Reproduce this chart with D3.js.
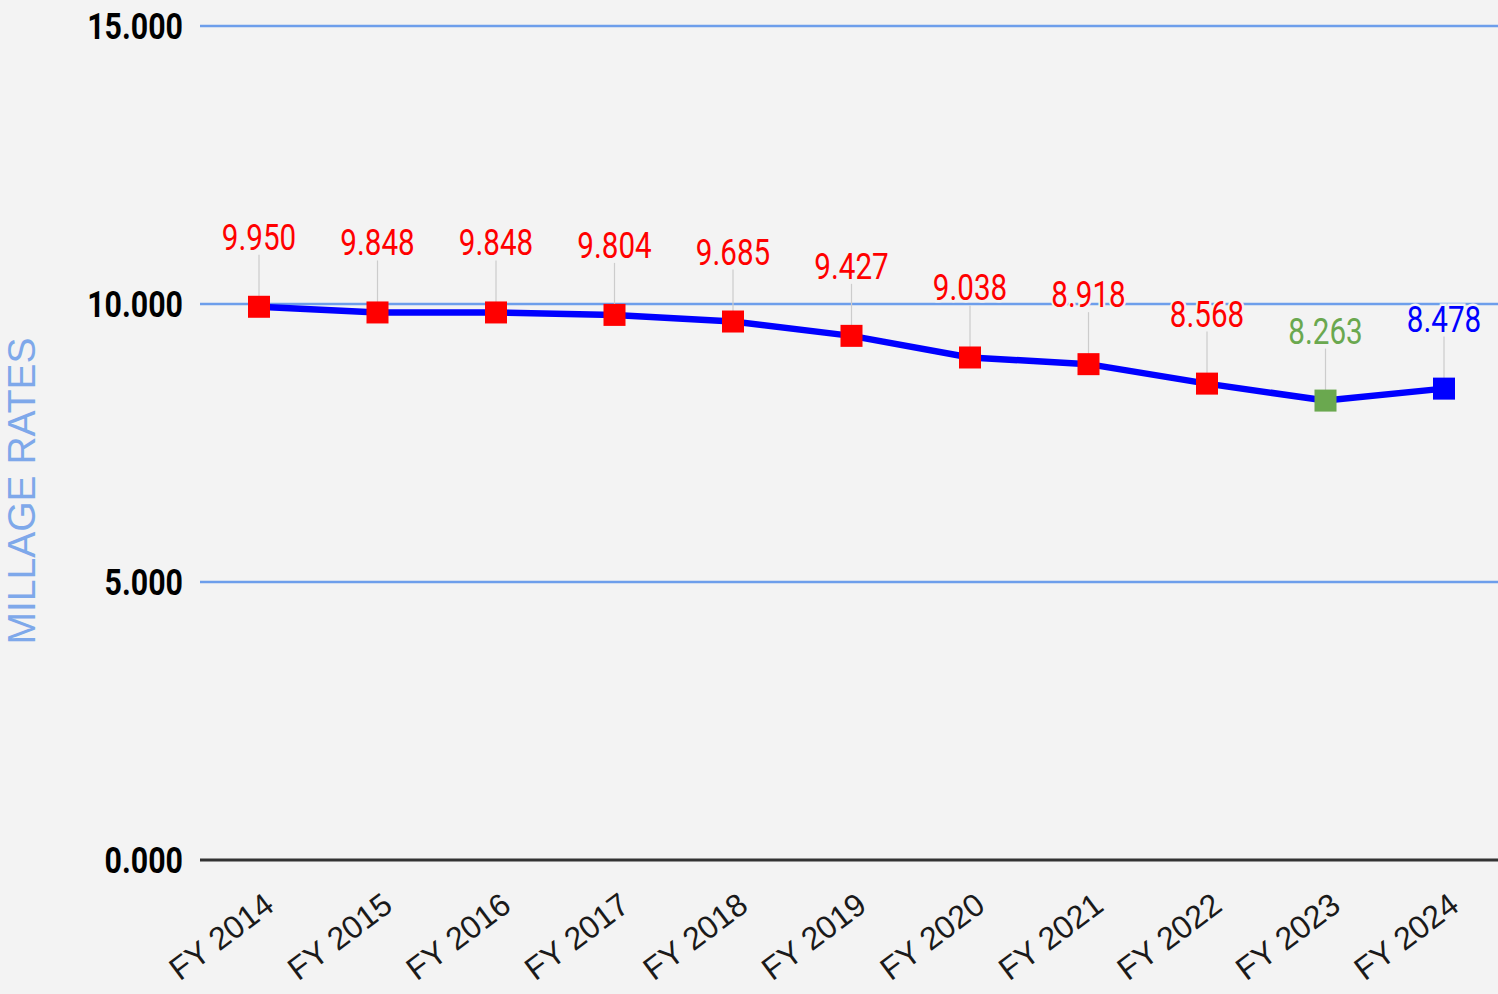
<!DOCTYPE html>
<html>
<head>
<meta charset="utf-8">
<script src="https://cdn.jsdelivr.net/npm/d3@7"></script>
<style>
  html, body { margin: 0; padding: 0; background: #f3f3f3; }
  svg { display: block; }
</style>
</head>
<body>
<svg width="1498" height="994"></svg>
<script>
var years = ["FY 2014", "FY 2015", "FY 2016", "FY 2017", "FY 2018", "FY 2019",
             "FY 2020", "FY 2021", "FY 2022", "FY 2023", "FY 2024"];
var rates = [9.950, 9.848, 9.848, 9.804, 9.685, 9.427, 9.038, 8.918, 8.568, 8.263, 8.478];
var pointColors = ["#ff0000", "#ff0000", "#ff0000", "#ff0000", "#ff0000", "#ff0000",
                   "#ff0000", "#ff0000", "#ff0000", "#6aa84f", "#0000ff"];
var yTicks = [0, 5, 10, 15];

var svg = d3.select("svg");

var x = d3.scalePoint()
    .domain(years)
    .range([259, 1444]);

var y = d3.scaleLinear()
    .domain([0, 15])
    .range([860, 26]);

var data = years.map(function(d, i) {
  return {year: d, value: rates[i], color: pointColors[i]};
});

// gridlines
svg.append("g")
  .selectAll("line")
    .data(yTicks)
  .enter().append("line")
    .attr("x1", 200)
    .attr("x2", 1498)
    .attr("y1", function(d) { return y(d); })
    .attr("y2", function(d) { return y(d); })
    .attr("stroke", function(d) { return d == 0 ? "#333333" : "#6d9eeb"; })
    .attr("stroke-width", function(d) { return d == 0 ? 3 : 2.5; });

// y tick labels
svg.append("g")
  .selectAll("g")
    .data(yTicks)
  .enter().append("g")
    .attr("transform", function(d) { return "translate(183," + (y(d) + 13) + ")scale(0.82,1)"; })
  .append("text")
    .attr("text-anchor", "end")
    .style("font-family", "Roboto")
    .style("font-weight", "bold")
    .style("font-size", "37px")
    .attr("fill", "#000")
    .text(function(d) { return d3.format(".3f")(d); });

// y title
svg.append("text")
    .attr("transform", "translate(35,491)rotate(-90)")
    .attr("text-anchor", "middle")
    .style("font-family", "Liberation Sans, Arial")
    .style("font-size", "39px")
    .attr("fill", "#7ea8ea")
    .text("MILLAGE RATES");

// x labels
svg.append("g")
  .selectAll("text")
    .data(years)
  .enter().append("text")
    .attr("transform", function(d) { return "translate(" + (x(d) + 17) + ",909)rotate(-37)"; })
    .attr("text-anchor", "end")
    .style("font-family", "Liberation Sans, Arial")
    .style("font-size", "32px")
    .attr("fill", "#1a1a1a")
    .text(function(d) { return d; });

// leader lines
svg.append("g")
  .selectAll("line")
    .data(data)
  .enter().append("line")
    .attr("x1", function(d) { return x(d.year); })
    .attr("x2", function(d) { return x(d.year); })
    .attr("y1", function(d) { return y(d.value) - 52; })
    .attr("y2", function(d) { return y(d.value); })
    .attr("stroke", "#cccccc")
    .attr("stroke-width", 1.2);

// data labels
svg.append("g")
  .selectAll("g")
    .data(data)
  .enter().append("g")
    .attr("transform", function(d) { return "translate(" + x(d.year) + "," + (y(d.value) - 57) + ")scale(0.8,1)"; })
  .append("text")
    .attr("text-anchor", "middle")
    .style("font-family", "Roboto")
    .style("font-size", "37px")
    .style("paint-order", "stroke")
    .attr("stroke", "#f3f3f3")
    .attr("stroke-width", 5)
    .attr("fill", function(d) { return d.color; })
    .text(function(d) { return d3.format(".3f")(d.value); });

// line
var line = d3.line()
    .x(function(d) { return x(d.year); })
    .y(function(d) { return y(d.value); });

svg.append("path")
    .datum(data)
    .attr("d", line)
    .attr("fill", "none")
    .attr("stroke", "#0000ff")
    .attr("stroke-width", 6.5)
    .attr("stroke-linejoin", "round");

// markers
svg.append("g")
  .selectAll("rect")
    .data(data)
  .enter().append("rect")
    .attr("x", function(d) { return x(d.year) - 11; })
    .attr("y", function(d) { return y(d.value) - 11; })
    .attr("width", 22)
    .attr("height", 22)
    .attr("fill", function(d) { return d.color; });
</script>
</body>
</html>
